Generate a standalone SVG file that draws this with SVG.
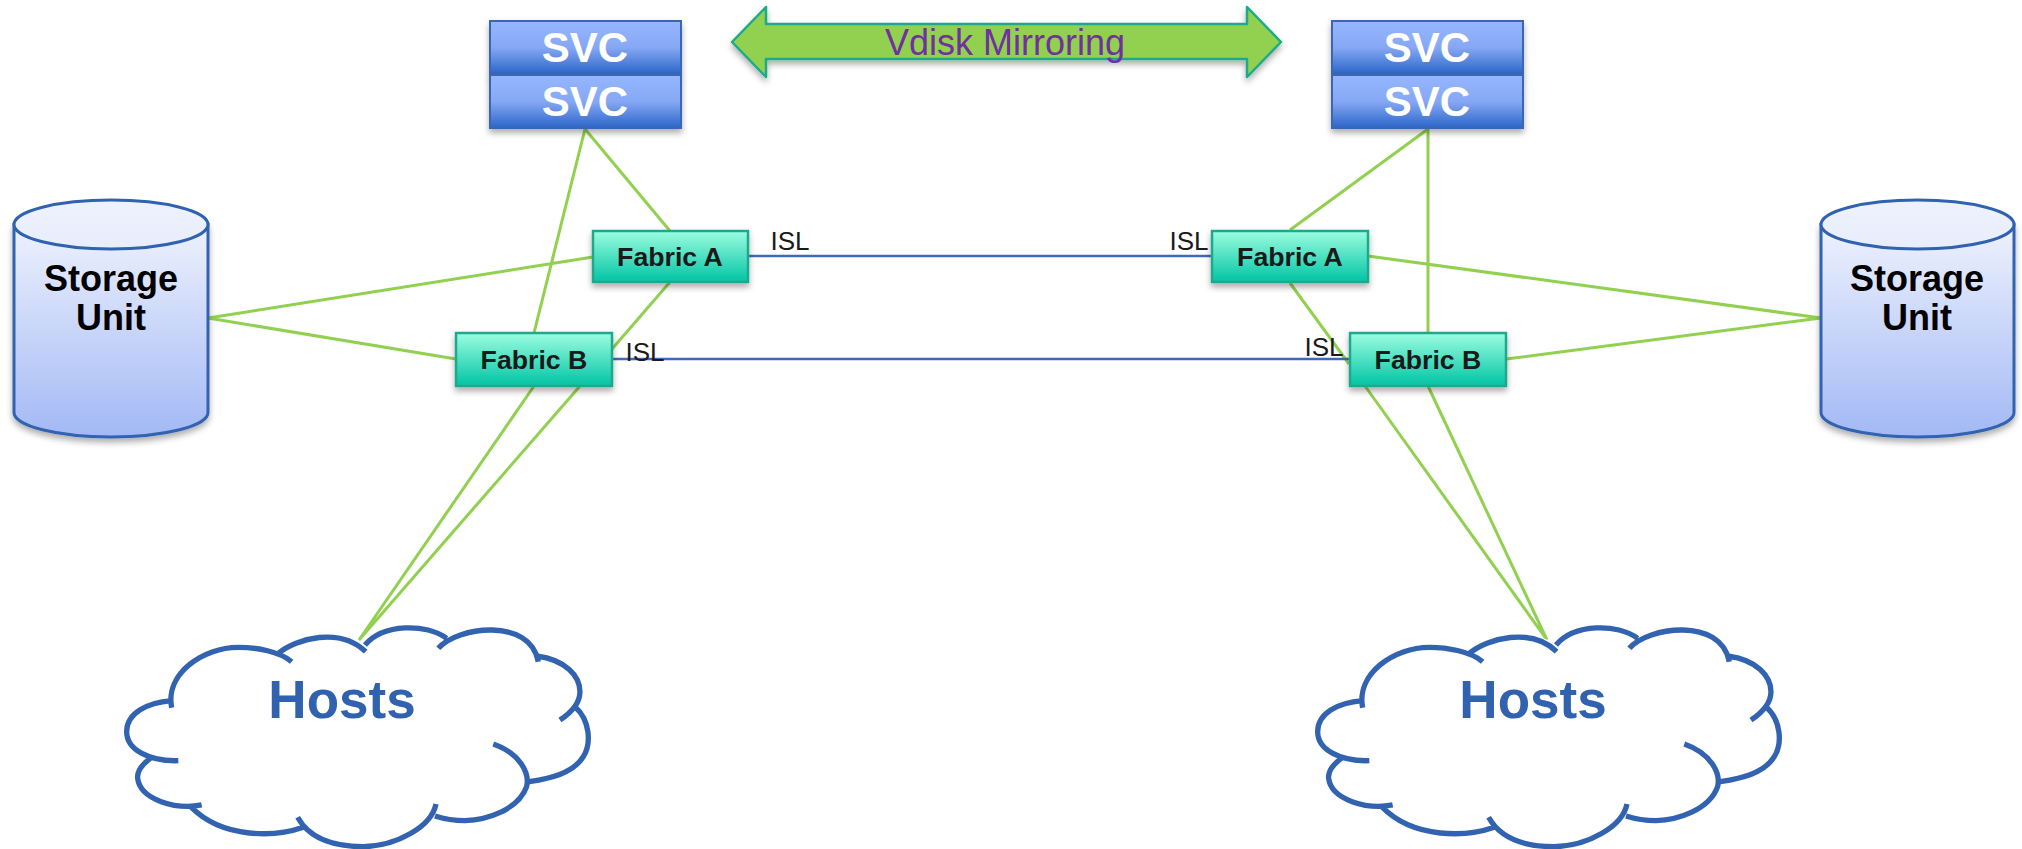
<svg xmlns="http://www.w3.org/2000/svg" xmlns:xlink="http://www.w3.org/1999/xlink" width="2022" height="849" viewBox="0 0 2022 849">
<style>
text{font-family:"Liberation Sans",Arial,sans-serif;text-anchor:middle}
.svc{fill:url(#gSvc);stroke:#3a66b0;stroke-width:2;filter:url(#sh)}
.svct{font-size:42px;font-weight:bold;fill:#fff}
.fab{fill:url(#gFab);stroke:#1fa98c;stroke-width:2.5;filter:url(#sh)}
.fabt{font-size:26.7px;font-weight:bold;fill:#1a1a1a}
.cyl{fill:url(#gCyl);stroke:#3162b0;stroke-width:3;filter:url(#sh)}
.lid{fill:url(#gLid);stroke:#3162b0;stroke-width:3}
.stot{font-size:36px;font-weight:bold;fill:#000}
.hostt{font-size:53px;font-weight:bold;fill:#3162b0}
.isl{font-size:26px;fill:#1a1a1a}
.g{stroke:#92d050;stroke-width:3;fill:none}
.b{stroke:#3e68b8;stroke-width:2.5;fill:none}
.cl{fill:none;stroke:#3263b0;stroke-width:16}
.clf{fill:#fff;stroke:none}
</style>
<defs>
<linearGradient id="gSvc" x1="0" y1="0" x2="0" y2="1"><stop offset="0" stop-color="#96b6ff"/><stop offset=".5" stop-color="#86a8f4"/><stop offset="1" stop-color="#2a66c8"/></linearGradient>
<linearGradient id="gFab" x1="0" y1="0" x2="0" y2="1"><stop offset="0" stop-color="#9cfde0"/><stop offset="1" stop-color="#00c4a4"/></linearGradient>
<linearGradient id="gCyl" x1="0" y1="0" x2="0" y2="1"><stop offset="0" stop-color="#eef2fd"/><stop offset="1" stop-color="#a3b9f5"/></linearGradient>
<linearGradient id="gLid" x1="0" y1="0" x2="0" y2="1"><stop offset="0" stop-color="#eef2fd"/><stop offset="1" stop-color="#e8edfc"/></linearGradient>
<filter id="sh" x="-10%" y="-10%" width="120%" height="130%"><feDropShadow dx="0" dy="4" stdDeviation="3" flood-color="#000" flood-opacity=".32"/></filter>
<g id="cloud" transform="translate(110 610) scale(.3333)">
<path class="clf" d="M185 272C175 170 280 112 385 112C430 112 470 118 505 130C560 85 690 50 767 105C840 40 950 50 1010 85C1090 30 1250 40 1285 138C1370 150 1440 220 1395 290C1440 330 1445 400 1420 440C1380 490 1320 505 1258 515C1225 600 1080 650 975 618C930 690 650 760 580 652C480 690 320 680 242 590C160 600 60 560 83 505C80 480 100 460 125 442C50 420 50 365 50 365C50 310 110 278 185 272Z"/>
<path class="cl" d="M185 293C165 190 280 112 385 112C440 112 510 125 545 155M505 130C560 85 690 50 767 125M765 105C820 40 950 40 1010 85M985 115C1040 50 1260 20 1285 155M1280 138C1370 150 1410 200 1410 245C1410 280 1380 310 1350 330M1395 290C1440 330 1445 400 1420 440C1390 490 1320 505 1258 515M1150 402C1230 430 1260 490 1250 530C1225 600 1130 630 1065 632C1030 632 1000 626 975 618M978 582C965 650 860 708 760 710C680 710 600 690 563 622M580 652C500 680 340 690 242 590M275 585C200 600 90 570 83 505C80 480 100 460 125 442M205 452C120 455 50 420 50 365C50 310 110 278 185 272"/>
</g>
</defs>

<g id="connectors">
<path class="g" d="M585 129L670 231M585 129L534 333M670 282L612 349M208 318L593 257M208 318L456 359M534 386L359 640M580 386L359 640"/>
<path class="g" d="M1428 129L1290 230M1428 129V333M1290 283L1349 364M1368 256L1821 318M1506 359L1821 318M1365 386L1547 640M1428 386L1547 640"/>
<path class="b" d="M748 256H1212M612 359H1350"/>
</g>

<g id="mirror">
<path d="M732 42L766 7V24H1247V7L1281 42L1247 77V59H766V77Z" fill="#92d050" stroke="#1aaa88" stroke-width="2.5" stroke-linejoin="round" filter="url(#sh)"/>
<text x="1005" y="55" font-size="36" fill="#7030a0">Vdisk Mirroring</text>
</g>

<g id="svc-left-1"><rect class="svc" x="490" y="21" width="191" height="53"/><text class="svct" x="585" y="62">SVC</text></g>
<g id="svc-left-2"><rect class="svc" x="490" y="75" width="191" height="53"/><text class="svct" x="585" y="116">SVC</text></g>
<g id="svc-right-1"><rect class="svc" x="1332" y="21" width="191" height="53"/><text class="svct" x="1427" y="62">SVC</text></g>
<g id="svc-right-2"><rect class="svc" x="1332" y="75" width="191" height="53"/><text class="svct" x="1427" y="116">SVC</text></g>

<g id="storage-left">
<path class="cyl" d="M14 224.500V412.500A97 24.500 0 0 0 208 412.500V224.500Z"/>
<ellipse class="lid" cx="111" cy="224.500" rx="97" ry="24.500"/>
<text class="stot" x="111" y="291">Storage</text><text class="stot" x="111" y="330">Unit</text>
</g>
<g id="storage-right">
<path class="cyl" d="M1821 224.500V412.500A96.500 24.500 0 0 0 2014 412.500V224.500Z"/>
<ellipse class="lid" cx="1917.500" cy="224.500" rx="96.500" ry="24.500"/>
<text class="stot" x="1917" y="291">Storage</text><text class="stot" x="1917" y="330">Unit</text>
</g>

<g id="fabric-a-left"><rect class="fab" x="593" y="231" width="155" height="51"/><text class="fabt" x="670" y="266">Fabric A</text></g>
<g id="fabric-b-left"><rect class="fab" x="456" y="333" width="156" height="53"/><text class="fabt" x="534" y="369">Fabric B</text></g>
<g id="fabric-a-right"><rect class="fab" x="1212" y="231" width="156" height="51"/><text class="fabt" x="1290" y="266">Fabric A</text></g>
<g id="fabric-b-right"><rect class="fab" x="1350" y="333" width="156" height="53"/><text class="fabt" x="1428" y="369">Fabric B</text></g>

<g id="isl-labels">
<text class="isl" x="790" y="250">ISL</text>
<text class="isl" x="1189" y="250">ISL</text>
<text class="isl" x="645" y="361">ISL</text>
<text class="isl" x="1324" y="356">ISL</text>
</g>

<g id="hosts-left"><use xlink:href="#cloud" href="#cloud"/><text class="hostt" x="342" y="718">Hosts</text></g>
<g id="hosts-right"><use xlink:href="#cloud" href="#cloud" x="1191"/><text class="hostt" x="1533" y="718">Hosts</text></g>
</svg>
